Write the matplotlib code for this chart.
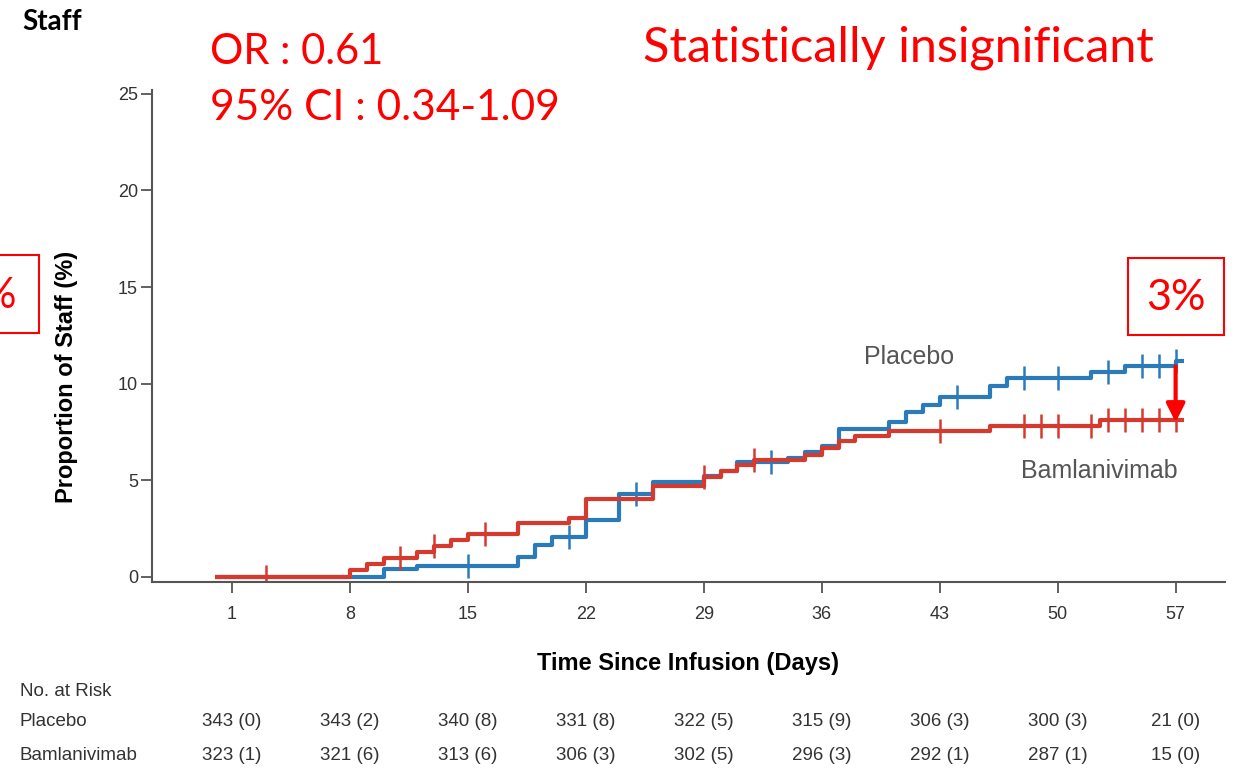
import numpy as np
import matplotlib
matplotlib.use("Agg")
import matplotlib.pyplot as plt
import matplotlib.transforms as mtransforms
from matplotlib.patches import Rectangle

# --- DATA ---
placebo_days = [0, 10, 12, 18, 19, 20, 22, 24, 26, 29, 30, 31, 34, 35, 36, 37,
                40, 41, 42, 43, 46, 47, 52, 54, 57]
placebo_pct = [0, 0.4, 0.57, 1.03, 1.66, 2.07, 2.95, 4.3, 4.9, 5.2, 5.5, 5.95,
               6.15, 6.45, 6.8, 7.66, 8.0, 8.55, 8.9, 9.3, 9.9, 10.3, 10.6, 10.9, 11.2]
placebo_censor = [15, 21, 25, 33, 44, 48, 50, 53, 55, 56, 57]

bamlan_days = [0, 8, 9, 10, 12, 13, 14, 15, 18, 21, 22, 26, 29, 30, 31, 32,
               35, 36, 37, 38, 40, 46, 52.5]
bamlan_pct = [0, 0.36, 0.68, 0.98, 1.28, 1.6, 1.9, 2.2, 2.8, 3.05, 4.05, 4.7,
              5.15, 5.5, 5.8, 6.05, 6.3, 6.7, 7.05, 7.3, 7.55, 7.8, 8.1]
bamlan_censor = [3, 11, 13, 16, 29, 32, 43, 48, 49, 50, 52, 53, 54, 55, 56, 57]

follow_up_end = 57.5
x_ticks = [1, 8, 15, 22, 29, 36, 43, 50, 57]
y_ticks = [0, 5, 10, 15, 20, 25]

risk_placebo = ["343 (0)", "343 (2)", "340 (8)", "331 (8)", "322 (5)",
                "315 (9)", "306 (3)", "300 (3)", "21 (0)"]
risk_bamlan = ["323 (1)", "321 (6)", "313 (6)", "306 (3)", "302 (5)",
               "296 (3)", "292 (1)", "287 (1)", "15 (0)"]

BLUE = "#2b7bba"
RED = "#d63a2e"
ANNOT = "#ff0000"
W, H = 1239, 768


def fx(px):
    return px / W


def fy(py):
    return 1 - py / H


def step_value(days, pct, t):
    idx = np.searchsorted(days, t, side="right") - 1
    return np.asarray(pct)[idx]


fig = plt.figure(figsize=(W / 100, H / 100), dpi=100)
ax = fig.add_axes([fx(152), fy(582), fx(1225) - fx(152), fy(90) - fy(582)])

# --- curves ---
for days, pct, cens, col in [(placebo_days, placebo_pct, placebo_censor, BLUE),
                             (bamlan_days, bamlan_pct, bamlan_censor, RED)]:
    xs = list(days) + [follow_up_end]
    ys = list(pct) + [pct[-1]]
    ax.step(xs, ys, where="post", color=col, lw=3, solid_capstyle="butt")
    cy = step_value(days, pct, np.array(cens))
    ax.plot(cens, cy, ls="none", marker="|", ms=17, mew=1.8, color=col)

ax.set_xlim(-3.74, 59.93)
ax.set_ylim(-0.26, 25.2)
ax.set_xticks(x_ticks)
ax.set_yticks(y_ticks)
ax.tick_params(axis="x", length=8, width=1.3, color="#555555", labelsize=13,
               labelcolor="#333333", pad=9)
ax.tick_params(axis="y", length=8, width=1.3, color="#555555", labelsize=13,
               labelcolor="#333333", pad=2)
for s in ["top", "right"]:
    ax.spines[s].set_visible(False)
for s in ["left", "bottom"]:
    ax.spines[s].set_color("#555555")
    ax.spines[s].set_linewidth(1.5)

ax.set_xlabel("Time Since Infusion (Days)", fontsize=17, fontweight="bold",
              family="Liberation Sans", labelpad=21)
ax.set_ylabel("Proportion of Staff (%)", fontsize=17, fontweight="bold",
              family="Liberation Sans")
ax.yaxis.set_label_coords(-0.069, 0.417)
for lab in ax.get_xticklabels() + ax.get_yticklabels():
    lab.set_family("Liberation Sans")

ax.text(38.5, placebo_pct[-1] + 0.2, "Placebo", fontsize=18, color="#555555",
        family="Liberation Sans", va="center")
ax.text(47.8, 5.5, "Bamlanivimab", fontsize=18, color="#555555",
        family="Liberation Sans", va="center")

# difference arrow
ax.annotate("", xy=(57, bamlan_pct[-1] - 0.1), xytext=(57, placebo_pct[-1] - 0.3),
            arrowprops=dict(arrowstyle="-|>", color=ANNOT, lw=3,
                            mutation_scale=28, shrinkA=0, shrinkB=0))

# --- risk table ---
trans = mtransforms.blended_transform_factory(ax.transData, fig.transFigure)
fig.text(fx(20), fy(692), "No. at Risk", fontsize=13.5, color="#333333",
         family="Liberation Sans", va="center")
fig.text(fx(20), fy(722), "Placebo", fontsize=13.5, color="#333333",
         family="Liberation Sans", va="center")
fig.text(fx(20), fy(756), "Bamlanivimab", fontsize=13.5, color="#333333",
         family="Liberation Sans", va="center")
for t, a, b in zip(x_ticks, risk_placebo, risk_bamlan):
    ax.text(t, fy(722), a, transform=trans, fontsize=13.5, color="#333333",
            family="Liberation Sans", ha="center", va="center")
    ax.text(t, fy(756), b, transform=trans, fontsize=13.5, color="#333333",
            family="Liberation Sans", ha="center", va="center")

# --- annotations ---
fig.text(fx(22), fy(22), "Staff", fontsize=20, fontweight="bold", family="Lato",
         va="center")
fig.text(fx(210), fy(64), "OR : 0.61", fontsize=30, color=ANNOT, family="Lato",
         va="baseline")
fig.text(fx(210), fy(120), "95% CI : 0.34-1.09", fontsize=30.5, color=ANNOT,
         family="Lato", va="baseline")
fig.text(fx(643), fy(61), "Statistically insignificant", fontsize=35,
         color=ANNOT, family="Lato", va="baseline")

fig.patches.append(Rectangle((fx(1128), fy(335)), fx(1224) - fx(1128),
                             fy(258) - fy(335), transform=fig.transFigure,
                             fill=False, edgecolor=ANNOT, lw=1.5))
fig.text(fx(1176), fy(298), "3%", fontsize=31, color=ANNOT, family="Lato",
         ha="center", va="center")
fig.patches.append(Rectangle((fx(-60), fy(333)), fx(39) - fx(-60),
                             fy(255) - fy(333), transform=fig.transFigure,
                             fill=False, edgecolor=ANNOT, lw=1.5))
fig.text(fx(16), fy(296), "%", fontsize=30, color=ANNOT, family="Lato",
         ha="right", va="center")

fig.savefig("out.png", dpi=100)
